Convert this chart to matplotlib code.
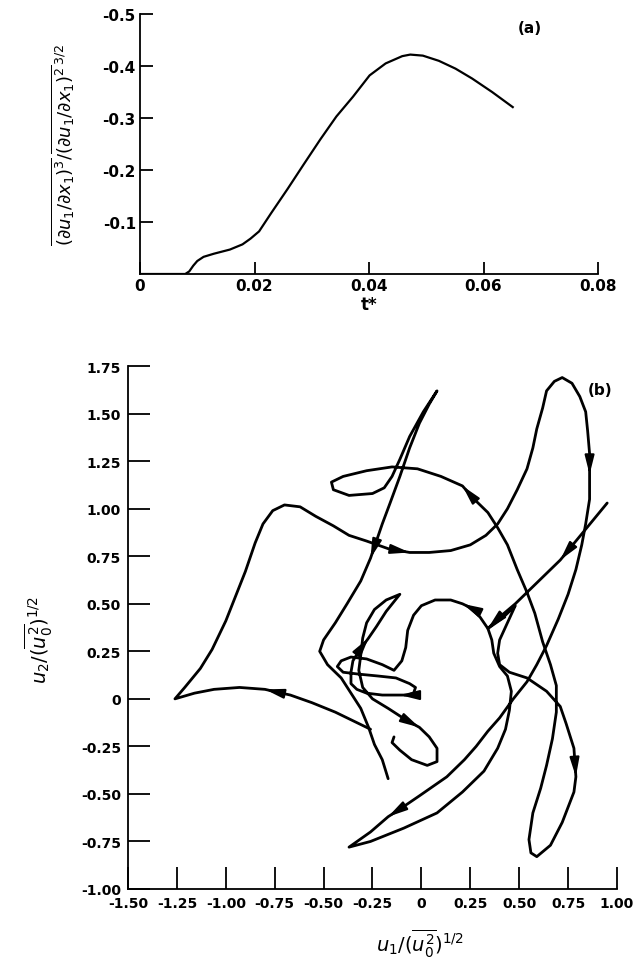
import matplotlib
matplotlib.use('Agg')
import matplotlib.pyplot as plt
import numpy as np

plt.rcParams['font.family'] = ['DejaVu Sans']
plt.rcParams['mathtext.fontset'] = 'dejavusans'

# ---- (a) derivative skewness vs t* ----
t_star = [0.0, 0.004, 0.0079, 0.0086, 0.0093, 0.0100, 0.0111, 0.0129, 0.0157, 0.0179,
          0.0193, 0.0208, 0.0229, 0.0258, 0.0286, 0.0315, 0.0343, 0.0372, 0.0401, 0.0429,
          0.0458, 0.0472, 0.0494, 0.0522, 0.0551, 0.0580, 0.0615, 0.0651]
skew = [0.0, 0.0, 0.0, -0.005, -0.016, -0.025, -0.033, -0.039, -0.047, -0.057,
        -0.068, -0.082, -0.117, -0.164, -0.211, -0.259, -0.303, -0.341, -0.382, -0.405,
        -0.419, -0.422, -0.420, -0.410, -0.395, -0.376, -0.350, -0.321]
a_xticks = [0, 0.02, 0.04, 0.06, 0.08]
a_xlabels = ['0', '0.02', '0.04', '0.06', '0.08']
a_yticks = [-0.1, -0.2, -0.3, -0.4, -0.5]
a_ylabels = ['-0.1', '-0.2', '-0.3', '-0.4', '-0.5']

# ---- (b) velocity phase trajectory, two traced strokes ----
# stroke starting at the free end in the upper right
u1_b = [0.95, 0.83, 0.71, 0.59, 0.48, 0.40, 0.34, 0.41, 0.47, 0.48, 0.44, 0.40, 0.39, 0.40, 0.45,
        0.54, 0.64, 0.71, 0.74, 0.78, 0.79, 0.78, 0.72, 0.66, 0.59, 0.56, 0.55, 0.57, 0.61, 0.64,
        0.67, 0.69, 0.69, 0.66, 0.62, 0.58, 0.54, 0.49, 0.44, 0.39, 0.34, 0.27, 0.21, 0.10, -0.02,
        -0.15, -0.28, -0.40, -0.46, -0.45, -0.37, -0.25, -0.19, -0.15, -0.11, -0.06, 0.01, 0.08, 0.04,
        -0.01, -0.06, -0.11, -0.16, -0.20, -0.23, -0.26, -0.31, -0.38, -0.44, -0.50, -0.52, -0.48, -0.41,
        -0.36, -0.31, -0.27, -0.24, -0.20, -0.17]
u2_b = [1.03, 0.88, 0.73, 0.61, 0.50, 0.43, 0.37, 0.42, 0.48, 0.49, 0.40, 0.31, 0.24, 0.18, 0.14,
        0.11, 0.04, -0.04, -0.13, -0.26, -0.41, -0.49, -0.65, -0.77, -0.83, -0.81, -0.74, -0.60, -0.47, -0.35,
        -0.21, -0.07, 0.07, 0.18, 0.30, 0.45, 0.56, 0.68, 0.81, 0.90, 0.98, 1.05, 1.12, 1.17, 1.21,
        1.22, 1.20, 1.17, 1.14, 1.10, 1.07, 1.08, 1.11, 1.17, 1.26, 1.38, 1.51, 1.62, 1.55,
        1.45, 1.32, 1.17, 1.03, 0.92, 0.83, 0.74, 0.62, 0.50, 0.40, 0.31, 0.25, 0.18, 0.11,
        0.03, -0.05, -0.15, -0.24, -0.32, -0.42]
arrows_b = [2, 6, 20, 42, 65]

# stroke through the left cusp, the big loops and the central tangle
u1_a = [-0.26, -0.34, -0.44, -0.56, -0.67, -0.80, -0.93, -1.06, -1.16, -1.26,
        -1.21, -1.13, -1.07, -1.00, -0.95, -0.90, -0.85, -0.81, -0.76, -0.70,
        -0.62, -0.54, -0.45, -0.37, -0.28, -0.17, -0.06, 0.04, 0.15, 0.25,
        0.33, 0.39, 0.44, 0.49, 0.54, 0.57, 0.59, 0.62, 0.64, 0.68,
        0.72, 0.77, 0.81, 0.84, 0.85, 0.86, 0.86, 0.86, 0.84, 0.82,
        0.79, 0.75, 0.70, 0.64, 0.59, 0.54, 0.47, 0.40, 0.34, 0.28,
        0.22, 0.13, -0.01, -0.11, -0.17, -0.26, -0.37, -0.26, -0.09, 0.08,
        0.21, 0.32, 0.39, 0.43, 0.45, 0.46, 0.44, 0.40, 0.37, 0.36,
        0.34, 0.30, 0.25, 0.21, 0.15, 0.07, 0.00, -0.04, -0.07, -0.08,
        -0.10, -0.14, -0.20, -0.28, -0.36, -0.41, -0.43, -0.40, -0.32, -0.22,
        -0.13, -0.06, -0.03, -0.04, -0.07, -0.11, -0.20, -0.28, -0.33, -0.36,
        -0.36, -0.35, -0.32, -0.27, -0.23, -0.18, -0.11, -0.18, -0.24, -0.28,
        -0.30, -0.31, -0.32, -0.30, -0.25, -0.17, -0.08, -0.01, 0.04, 0.08,
        0.08, 0.03, -0.05, -0.11, -0.15, -0.14]
u2_a = [-0.16, -0.12, -0.07, -0.02, 0.02, 0.05, 0.06, 0.05, 0.03, 0.00,
        0.06, 0.16, 0.26, 0.41, 0.54, 0.67, 0.82, 0.92, 0.99, 1.02,
        1.01, 0.96, 0.91, 0.86, 0.83, 0.79, 0.77, 0.77, 0.78, 0.81,
        0.86, 0.92, 1.00, 1.10, 1.21, 1.32, 1.42, 1.53, 1.62, 1.67,
        1.69, 1.66, 1.59, 1.51, 1.41, 1.29, 1.18, 1.05, 0.92, 0.81,
        0.68, 0.55, 0.42, 0.28, 0.18, 0.09, 0.00, -0.10, -0.17, -0.25,
        -0.32, -0.41, -0.51, -0.58, -0.62, -0.70, -0.78, -0.75, -0.68, -0.60,
        -0.49, -0.38, -0.26, -0.16, -0.06, 0.04, 0.12, 0.17, 0.24, 0.31,
        0.37, 0.43, 0.48, 0.50, 0.52, 0.52, 0.49, 0.44, 0.36, 0.27,
        0.20, 0.15, 0.18, 0.21, 0.22, 0.20, 0.17, 0.14, 0.13, 0.12,
        0.11, 0.08, 0.06, 0.03, 0.02, 0.02, 0.02, 0.03, 0.05, 0.08,
        0.14, 0.20, 0.25, 0.32, 0.38, 0.46, 0.55, 0.52, 0.47, 0.40,
        0.32, 0.23, 0.15, 0.06, 0.00, -0.05, -0.11, -0.15, -0.20, -0.26,
        -0.33, -0.35, -0.32, -0.27, -0.23, -0.20]
arrows_a = [5, 26, 46, 64, 83, 105, 113, 127]

b_xticks = [-1.5, -1.25, -1.0, -0.75, -0.5, -0.25, 0, 0.25, 0.5, 0.75, 1.0]
b_xlabels = ['-1.50', '-1.25', '-1.00', '-0.75', '-0.50', '-0.25', '0', '0.25', '0.50', '0.75', '1.00']
b_yticks = [-1.0, -0.75, -0.5, -0.25, 0, 0.25, 0.5, 0.75, 1.0, 1.25, 1.5, 1.75]
b_ylabels = ['-1.00', '-0.75', '-0.50', '-0.25', '0', '0.25', '0.50', '0.75', '1.00', '1.25', '1.50', '1.75']


def style_axes(ax, tick_len, size, pad):
    for side in ['top', 'right']:
        ax.spines[side].set_visible(False)
    for side in ['left', 'bottom']:
        ax.spines[side].set_linewidth(1.3)
    ax.tick_params(direction='in', length=tick_len, width=1.3, labelsize=size, pad=pad)
    for lab in ax.get_xticklabels() + ax.get_yticklabels():
        lab.set_fontweight('bold')


def add_arrows(ax, xs, ys, idx_list):
    # arrowhead at each listed point, pointing along the stroke
    for i in idx_list:
        d = np.array([xs[i] - xs[i - 1], ys[i] - ys[i - 1]])
        d = d / np.hypot(*d)
        tail = (xs[i] - 0.04 * d[0], ys[i] - 0.04 * d[1])
        ax.annotate('', xy=(xs[i], ys[i]), xytext=tail,
                    arrowprops=dict(arrowstyle='-|>,head_length=0.8,head_width=0.2',
                                    color='black', lw=1.6, shrinkA=0, shrinkB=0,
                                    mutation_scale=14))


fig = plt.figure(figsize=(6.35, 9.7), dpi=100)

# panel (a)
ax1 = fig.add_axes([0.2205, 0.7165, 0.7213, 0.268])
ax1.plot(t_star, skew, color='black', lw=1.6, solid_joinstyle='round')
ax1.set_xlim(0, 0.08)
ax1.set_ylim(0, -0.5)
ax1.set_xticks(a_xticks)
ax1.set_xticklabels(a_xlabels)
ax1.set_yticks(a_yticks)
ax1.set_yticklabels(a_ylabels)
style_axes(ax1, 9, 11, 3)
ax1.set_xlabel('t*', fontsize=12, fontweight='bold')
ax1.xaxis.set_label_coords(0.50, -0.082)
ax1.set_ylabel(r'$\overline{(\partial u_1/\partial x_1)^3}/\overline{(\partial u_1/\partial x_1)^2}^{\,3/2}$',
               fontsize=13)
ax1.yaxis.set_label_coords(-0.14, 0.5)
ax1.text(0.852, 0.95, '(a)', transform=ax1.transAxes, fontsize=11, fontweight='bold',
         ha='center', va='center')

# panel (b)
ax2 = fig.add_axes([0.2016, 0.0825, 0.770, 0.539])
ax2.plot(u1_a, u2_a, color='black', lw=2.0, solid_joinstyle='round', solid_capstyle='round')
ax2.plot(u1_b, u2_b, color='black', lw=2.0, solid_joinstyle='round', solid_capstyle='round')
add_arrows(ax2, u1_a, u2_a, arrows_a)
add_arrows(ax2, u1_b, u2_b, arrows_b)
ax2.set_xlim(-1.5, 1.0)
ax2.set_ylim(-1.0, 1.75)
ax2.set_xticks(b_xticks)
ax2.set_xticklabels(b_xlabels)
ax2.set_yticks(b_yticks)
ax2.set_yticklabels(b_ylabels)
style_axes(ax2, 16, 10, 5)
ax2.set_xlabel(r'$u_1/(\overline{u_0^2})^{1/2}$', fontsize=14)
ax2.xaxis.set_label_coords(0.597, -0.072)
ax2.set_ylabel(r'$u_2/(\overline{u_0^2})^{1/2}$', fontsize=14)
ax2.yaxis.set_label_coords(-0.15, 0.478)
ax2.text(0.965, 0.956, '(b)', transform=ax2.transAxes, fontsize=11, fontweight='bold',
         ha='center', va='center')

fig.savefig('out.png', dpi=100)
